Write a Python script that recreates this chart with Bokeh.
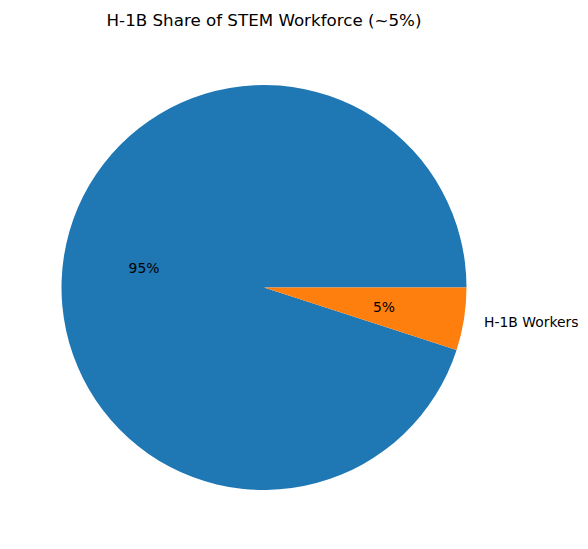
import numpy as np
from bokeh.plotting import figure
from bokeh.models import ColumnDataSource
from bokeh.core.properties import value
from bokeh.embed import file_html
from bokeh.resources import INLINE

# Data
categories = ["Other STEM Workers", "H-1B Workers"]
outer_labels = ["", "H-1B Workers"]
shares = [95, 5]
pct_labels = ["95%", "5%"]
colors = ["#1f77b4", "#ff7f0e"]
title_text = "H-1B Share of STEM Workforce (~5%)"

W, H = 580, 533
R = 202.5            # pie radius in px
cx, cy = 263.5, 287  # pie centre in px from top-left of figure

frac = np.array(shares, dtype=float) / sum(shares)
ends = np.cumsum(frac) * 2 * np.pi
starts = ends - frac * 2 * np.pi
mids = (starts + ends) / 2

src = ColumnDataSource(dict(
    cat=categories, start=starts, end=ends, color=colors,
    px=0.6 * np.cos(mids), py=0.6 * np.sin(mids), pct=pct_labels,
))

p = figure(width=W, height=H, output_backend="svg", toolbar_location=None,
           x_range=(-cx / R, (W - cx) / R), y_range=(-(H - cy) / R, cy / R),
           min_border=0, tools="")
p.axis.visible = False
p.grid.visible = False
p.outline_line_color = None
p.background_fill_color = "white"
p.border_fill_color = "white"

p.wedge(x=0, y=0, radius=1, start_angle="start", end_angle="end",
        color="color", line_color=None, source=src)

p.text(x="px", y="py", text="pct", source=src, text_align="center",
       text_baseline="middle", text_font=value("DejaVu Sans"),
       text_font_size="13.9px", text_color="black")

# outer labels: left aligned on right side, right aligned on left side
right = [i for i in range(len(categories)) if np.cos(mids[i]) >= 0]
left = [i for i in range(len(categories)) if np.cos(mids[i]) < 0]
for idx, align in ((right, "left"), (left, "right")):
    s = ColumnDataSource(dict(x=[1.1 * np.cos(mids[i]) for i in idx],
                              y=[1.1 * np.sin(mids[i]) for i in idx],
                              t=[outer_labels[i] for i in idx]))
    p.text(x="x", y="y", text="t", source=s, text_align=align, text_baseline="middle",
           text_font=value("DejaVu Sans"), text_font_size="13.9px", text_color="black")

# title
p.text(x=[0.0], y=[(cy - 19) / R], text=[title_text], text_align="center",
       text_baseline="middle", text_font=value("DejaVu Sans"),
       text_font_size="16.7px", text_color="black")

open("out.html", "w").write(file_html(p, INLINE))
